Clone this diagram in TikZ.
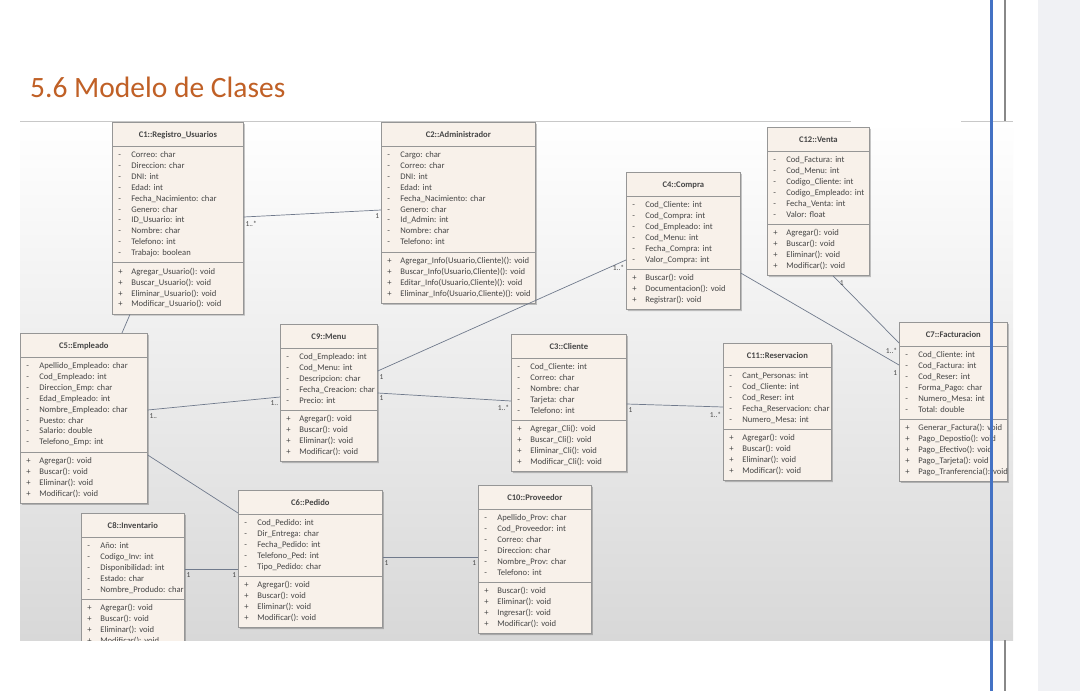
\documentclass[tikz,border=0pt]{standalone}
\usepackage{fontspec}
\setmainfont{Carlito}
\usetikzlibrary{shapes.multipart,shadows,calc}
\definecolor{boxfill}{RGB}{248,241,234}
\definecolor{boxline}{RGB}{150,150,150}
\definecolor{connc}{RGB}{112,122,140}
\definecolor{txt}{RGB}{70,70,70}
\definecolor{titlec}{RGB}{192,96,38}
\definecolor{rpanel}{RGB}{240,241,244}
\definecolor{blueline}{RGB}{68,114,196}
\definecolor{vline}{RGB}{136,136,136}
\definecolor{hline}{RGB}{200,200,200}
\definecolor{panelbot}{RGB}{216,216,216}
\frenchspacing
\newcommand\attr[1]{\strut\hspace*{6pt}\makebox[13pt][l]{-}\mbox{#1}}
\newcommand\meth[1]{\strut\hspace*{6pt}\makebox[13pt][l]{+}\mbox{#1}}
\newcommand\hdr[1]{\hbox to\hsize{\hfil\rule[-4.6pt]{0pt}{16pt}\textbf{#1}\hfil}}
\newcommand\umlcls[7]{%
  \node[umlclass, text width=#4] (#1) at (#2,#3)
    {\hdr{#5}\nodepart{two}\raggedright #6\nodepart{three}\raggedright #7};}
\tikzset{
  umlclass/.style={rectangle split, rectangle split parts=3, draw=boxline,
    fill=boxfill, line width=0.7pt, anchor=north west, inner xsep=0pt,
    inner ysep=3.5pt, font=\fontsize{8.6}{10.9}\selectfont\frenchspacing, text=txt,
    align=left, drop shadow={shadow xshift=1.6pt, shadow yshift=-1.6pt,
    opacity=0.22, fill=black}},
  conn/.style={draw=connc, line width=0.7pt},
  mult/.style={font=\fontsize{7.5}{9}\selectfont, text=txt, inner sep=1.5pt}
}
\begin{document}
\begin{tikzpicture}[x=1pt,y=-1pt]
\useasboundingbox (0,0) rectangle (1080,691);
\fill[white] (0,0) rectangle (1080,691);
\fill[rpanel] (1038,0) rectangle (1080,691);
\shade[top color=white, bottom color=panelbot] (20,121) rectangle (1013,640);
\draw[vline, line width=1.8pt] (1005,0) -- (1005,121) (1005,640) -- (1005,691);
\draw[hline, line width=0.8pt] (20,121) -- (851,121) (961,121) -- (1013,121);
\node[anchor=base west, font=\fontsize{29.5}{34}\selectfont, text=titlec, inner sep=0pt] (title) at (30,97) {5.6 Modelo de Clases};

\begin{scope}
\clip (20,121) rectangle (1013,640);
\umlcls{c1}{112}{122}{131pt}{C1::Registro\_Usuarios}
 {\attr{Correo: char}\\\attr{Direccion: char}\\\attr{DNI: int}\\\attr{Edad: int}\\\attr{Fecha\_Nacimiento: char}\\\attr{Genero: char}\\\attr{ID\_Usuario: int}\\\attr{Nombre: char}\\\attr{Telefono: int}\\\attr{Trabajo: boolean}}
 {\meth{Agregar\_Usuario(): void}\\\meth{Buscar\_Usuario(): void}\\\meth{Eliminar\_Usuario(): void}\\\meth{Modificar\_Usuario(): void}}
\umlcls{c2}{381}{122}{154pt}{C2::Administrador}
 {\attr{Cargo: char}\\\attr{Correo: char}\\\attr{DNI: int}\\\attr{Edad: int}\\\attr{Fecha\_Nacimiento: char}\\\attr{Genero: char}\\\attr{Id\_Admin: int}\\\attr{Nombre: char}\\\attr{Telefono: int}}
 {\meth{Agregar\_Info(Usuario,Cliente)(): void}\\\meth{Buscar\_Info(Usuario,Cliente)(): void}\\\meth{Editar\_Info(Usuario,Cliente)(): void}\\\meth{Eliminar\_Info(Usuario,Cliente)(): void}}
\umlcls{c12}{767}{127}{102pt}{C12::Venta}
 {\attr{Cod\_Factura: int}\\\attr{Cod\_Menu: int}\\\attr{Codigo\_Cliente: int}\\\attr{Codigo\_Empleado: int}\\\attr{Fecha\_Venta: int}\\\attr{Valor: float}}
 {\meth{Agregar(): void}\\\meth{Buscar(): void}\\\meth{Eliminar(): void}\\\meth{Modificar(): void}}
\umlcls{c4}{626}{172}{114pt}{C4::Compra}
 {\attr{Cod\_Cliente: int}\\\attr{Cod\_Compra: int}\\\attr{Cod\_Empleado: int}\\\attr{Cod\_Menu: int}\\\attr{Fecha\_Compra: int}\\\attr{Valor\_Compra: int}}
 {\meth{Buscar(): void}\\\meth{Documentacion(): void}\\\meth{Registrar(): void}}
\umlcls{c5}{20}{333}{127pt}{C5::Empleado}
 {\attr{Apellido\_Empleado: char}\\\attr{Cod\_Empleado: int}\\\attr{Direccion\_Emp: char}\\\attr{Edad\_Empleado: int}\\\attr{Nombre\_Empleado: char}\\\attr{Puesto: char}\\\attr{Salario: double}\\\attr{Telefono\_Emp: int}}
 {\meth{Agregar(): void}\\\meth{Buscar(): void}\\\meth{Eliminar(): void}\\\meth{Modificar(): void}}
\umlcls{c9}{280}{324}{97pt}{C9::Menu}
 {\attr{Cod\_Empleado: int}\\\attr{Cod\_Menu: int}\\\attr{Descripcion: char}\\\attr{Fecha\_Creacion: char}\\\attr{Precio: int}}
 {\meth{Agregar(): void}\\\meth{Buscar(): void}\\\meth{Eliminar(): void}\\\meth{Modificar(): void}}
\umlcls{c3}{511}{334}{115pt}{C3::Cliente}
 {\attr{Cod\_Cliente: int}\\\attr{Correo: char}\\\attr{Nombre: char}\\\attr{Tarjeta: char}\\\attr{Telefono: int}}
 {\meth{Agregar\_Cli(): void}\\\meth{Buscar\_Cli(): void}\\\meth{Eliminar\_Cli(): void}\\\meth{Modificar\_Cli(): void}}
\umlcls{c11}{723}{343}{108pt}{C11::Reservacion}
 {\attr{Cant\_Personas: int}\\\attr{Cod\_Cliente: int}\\\attr{Cod\_Reser: int}\\\attr{Fecha\_Reservacion: char}\\\attr{Numero\_Mesa: int}}
 {\meth{Agregar(): void}\\\meth{Buscar(): void}\\\meth{Eliminar(): void}\\\meth{Modificar(): void}}
\umlcls{c7}{899}{322}{108pt}{C7::Facturacion}
 {\attr{Cod\_Cliente: int}\\\attr{Cod\_Factura: int}\\\attr{Cod\_Reser: int}\\\attr{Forma\_Pago: char}\\\attr{Numero\_Mesa: int}\\\attr{Total: double}}
 {\meth{Generar\_Factura(): void}\\\meth{Pago\_Depostio(): void}\\\meth{Pago\_Efectivo(): void}\\\meth{Pago\_Tarjeta(): void}\\\meth{Pago\_Tranferencia(): void}}
\umlcls{c6}{238}{490}{144pt}{C6::Pedido}
 {\attr{Cod\_Pedido: int}\\\attr{Dir\_Entrega: char}\\\attr{Fecha\_Pedido: int}\\\attr{Telefono\_Ped: int}\\\attr{Tipo\_Pedido: char}}
 {\meth{Agregar(): void}\\\meth{Buscar(): void}\\\meth{Eliminar(): void}\\\meth{Modificar(): void}}
\umlcls{c8}{81}{513}{103pt}{C8::Inventario}
 {\attr{Año: int}\\\attr{Codigo\_Inv: int}\\\attr{Disponibilidad: int}\\\attr{Estado: char}\\\attr{Nombre\_Produdo: char}}
 {\meth{Agregar(): void}\\\meth{Buscar(): void}\\\meth{Eliminar(): void}\\\meth{Modificar(): void}}
\umlcls{c10}{478}{485}{113pt}{C10::Proveedor}
 {\attr{Apellido\_Prov: char}\\\attr{Cod\_Proveedor: int}\\\attr{Correo: char}\\\attr{Direccion: char}\\\attr{Nombre\_Prov: char}\\\attr{Telefono: int}}
 {\meth{Buscar(): void}\\\meth{Eliminar(): void}\\\meth{Ingresar(): void}\\\meth{Modificar(): void}}

% connectors
\draw[conn] ($(c1.north east)+(0,95)$) -- ($(c2.north west)+(0,88)$)
  node[mult,pos=0,anchor=north west,yshift=-2pt]{1..*} node[mult,pos=1,anchor=north east,yshift=-2pt]{1};
\draw[conn] ($(c1.south west)+(18,0)$) -- ($(c5.north west)+(102,0)$);
\draw[conn] ($(c5.north east)+(0,77)$) -- ($(c9.north west)+(0,73)$)
  node[mult,pos=0,anchor=north west,yshift=-2pt]{1..} node[mult,pos=1,anchor=north east,yshift=-2pt]{1..};
\draw[conn] ($(c5.north east)+(0,122)$) -- ($(c6.north west)+(0,23)$);
\draw[conn] ($(c9.north east)+(0,47)$) -- ($(c4.north west)+(0,88)$)
  node[mult,pos=0,anchor=north west,yshift=-2pt]{1} node[mult,pos=1,anchor=north east,yshift=-3pt]{1..*};
\draw[conn] ($(c9.north east)+(0,69)$) -- ($(c3.north west)+(0,67)$)
  node[mult,pos=0,anchor=north west,yshift=-1pt]{1} node[mult,pos=1,anchor=north east,yshift=-2pt]{1..*};
\draw[conn] ($(c3.north east)+(0,70)$) -- ($(c11.north west)+(0,64)$)
  node[mult,pos=0,anchor=north west,yshift=-2pt]{1} node[mult,pos=1,anchor=north east,yshift=-3pt]{1..*};
\draw[conn] ($(c4.north east)+(0,101)$) -- ($(c7.north west)+(0,43)$)
  node[mult,pos=1,anchor=north east,yshift=-4pt]{1};
\draw[conn] ($(c12.south west)+(66,0)$) -- ($(c7.north west)+(0,21)$)
  node[mult,pos=0,anchor=north west,xshift=5pt,yshift=-3pt]{1} node[mult,pos=1,anchor=north east,yshift=-3pt]{1..*};
\draw[conn] ($(c8.north east)+(0,56)$) -- ($(c6.north west)+(0,79)$)
  node[mult,pos=0,anchor=north west,yshift=-2pt]{1} node[mult,pos=1,anchor=north east,yshift=-2pt]{1};
\draw[conn] ($(c6.north east)+(0,67)$) -- ($(c10.north west)+(0,72)$)
  node[mult,pos=0,anchor=north west,yshift=-2pt]{1} node[mult,pos=1,anchor=north east,yshift=-2pt]{1};
\end{scope}

\draw[blueline, line width=2.6pt] (991.5,0) -- (991.5,691);
\end{tikzpicture}
\end{document}
